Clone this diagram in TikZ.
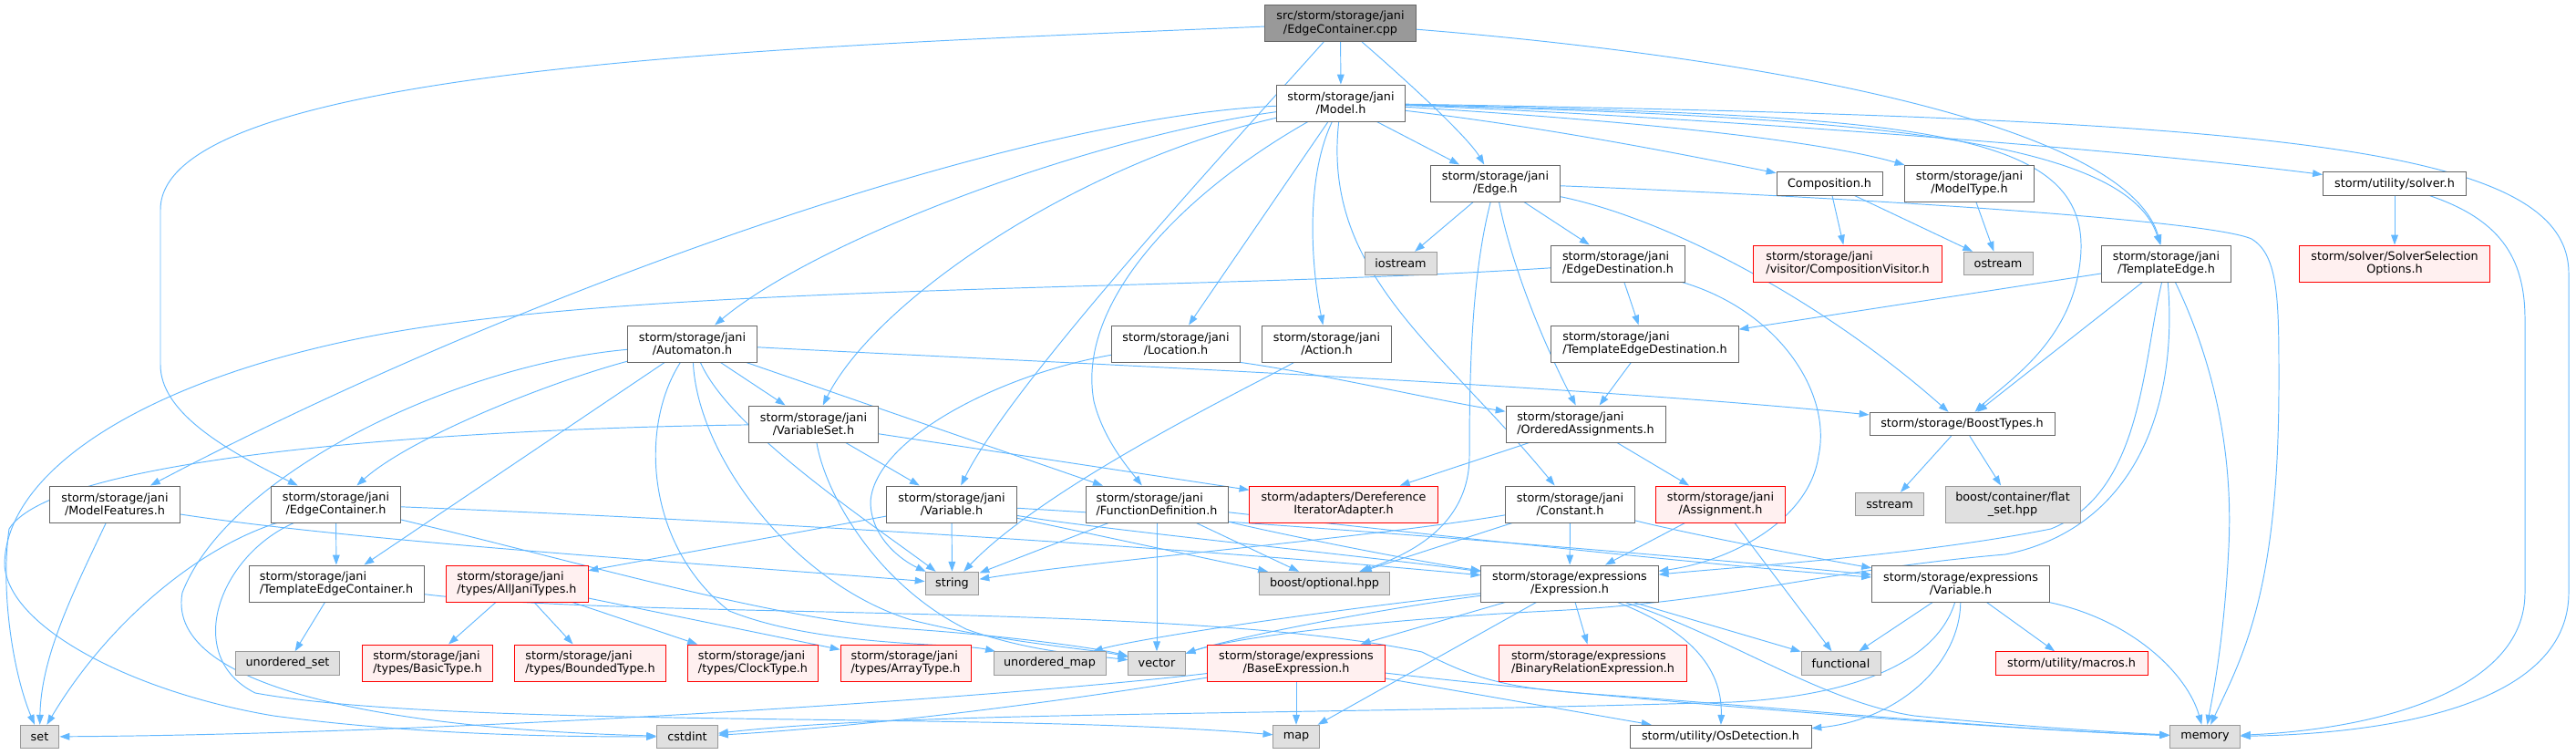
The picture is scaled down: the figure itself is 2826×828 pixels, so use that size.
\documentclass[tikz,border=0pt]{standalone}
\usepackage{fontspec}
\setmainfont{DejaVu Sans}
\usepackage{tikz}
\usetikzlibrary{arrows.meta,backgrounds}
\definecolor{LinkBlue}{HTML}{63B8FF}
\definecolor{DeepGray}{HTML}{666666}
\definecolor{MidGray}{HTML}{999999}
\definecolor{SoftGray}{HTML}{E0E0E0}
\definecolor{DeepRed}{HTML}{FF0000}
\definecolor{SoftRed}{HTML}{FFF0F0}
\newcommand{\graphfont}{\fontsize{10pt}{11.2pt}\selectfont}
\tikzset{
  filebox/.style={draw=DeepGray,fill=white,line width=0.75pt,align=center,
              minimum height=1.1cm,inner sep=2pt,font=\graphfont},
  rootbox/.style={filebox,fill=MidGray},
  sysbox/.style={filebox,draw=MidGray,fill=SoftGray,minimum height=0.7cm},
  redbox/.style={filebox,draw=DeepRed,fill=SoftRed},
  onerow/.style={minimum height=0.7cm},
  dep/.style={-{Triangle[length=8.5pt,width=6pt]},line width=0.75pt,draw=LinkBlue}
}
\begin{document}
\begin{tikzpicture}[x=0.0275cm,y=-0.0275cm]
  \useasboundingbox (0,0) rectangle (2826,828);

  \node[rootbox,minimum width=4.54cm] (root) at (1470.5,25.5) {src/storm/storage/jani\\/EdgeContainer.cpp};
  \node[filebox,minimum width=3.88cm] (model) at (1471,113) {storm/storage/jani\\/Model.h};
  \node[filebox,minimum width=3.91cm] (edge) at (1640.5,201) {storm/storage/jani\\/Edge.h};
  \node[filebox,onerow,minimum width=3.19cm] (compos) at (2007,201.5) {Composition.h};
  \node[filebox,minimum width=3.88cm] (modeltype) at (2160.5,201) {storm/storage/jani\\/ModelType.h};
  \node[filebox,onerow,minimum width=4.32cm] (solver) at (2627,201.5) {storm/utility/solver.h};
  \node[sysbox,minimum width=2.17cm] (iostream) at (1536.5,289) {iostream};
  \node[filebox,align=left,minimum width=4.02cm] (edgedest) at (1775,289) {storm/storage/jani\\/EdgeDestination.h};
  \node[redbox,align=left,minimum width=5.67cm] (compvisit) at (2027,289) {storm/storage/jani\\/visitor/CompositionVisitor.h};
  \node[sysbox,minimum width=2.09cm] (ostream) at (2192,289) {ostream};
  \node[filebox,minimum width=3.88cm] (templedge) at (2376.5,289) {storm/storage/jani\\/TemplateEdge.h};
  \node[redbox,minimum width=5.75cm] (solversel) at (2627,289) {storm/solver/SolverSelection\\Options.h};
  \node[filebox,minimum width=3.88cm] (automaton) at (759.5,377) {storm/storage/jani\\/Automaton.h};
  \node[filebox,minimum width=3.88cm] (location) at (1290,377) {storm/storage/jani\\/Location.h};
  \node[filebox,minimum width=3.88cm] (action) at (1455.5,377) {storm/storage/jani\\/Action.h};
  \node[filebox,align=left,minimum width=5.64cm] (templdest) at (1804.5,377) {storm/storage/jani\\/TemplateEdgeDestination.h};
  \node[filebox,minimum width=3.88cm] (varset) at (892.5,465) {storm/storage/jani\\/VariableSet.h};
  \node[filebox,align=left,minimum width=4.81cm] (ordassign) at (1739.5,465) {storm/storage/jani\\/OrderedAssignments.h};
  \node[filebox,onerow,minimum width=5.58cm] (boosttypes) at (2152.5,465) {storm/storage/BoostTypes.h};
  \node[filebox,minimum width=3.91cm] (modelfeat) at (126,553) {storm/storage/jani\\/ModelFeatures.h};
  \node[filebox,minimum width=3.88cm] (edgecont) at (368.5,553) {storm/storage/jani\\/EdgeContainer.h};
  \node[filebox,minimum width=3.91cm] (janivar) at (1044,553) {storm/storage/jani\\/Variable.h};
  \node[filebox,align=left,minimum width=4.29cm] (funcdef) at (1269,553) {storm/storage/jani\\/FunctionDefinition.h};
  \node[redbox,minimum width=5.67cm] (deref) at (1474,553) {storm/adapters/Dereference\\IteratorAdapter.h};
  \node[filebox,minimum width=3.88cm] (constant) at (1722.5,553) {storm/storage/jani\\/Constant.h};
  \node[redbox,minimum width=3.88cm] (assign) at (1887.5,553) {storm/storage/jani\\/Assignment.h};
  \node[sysbox,minimum width=2.04cm] (sstream) at (2073,553) {sstream};
  \node[sysbox,minimum height=1.1cm,minimum width=4.07cm] (flatset) at (2208,553) {boost/container/flat\\\_set.hpp};
  \node[filebox,align=left,minimum width=5.28cm] (templcont) at (369,640) {storm/storage/jani\\/TemplateEdgeContainer.h};
  \node[redbox,align=left,minimum width=4.29cm] (alltypes) at (567,640) {storm/storage/jani\\/types/AllJaniTypes.h};
  \node[sysbox,minimum width=1.62cm] (string) at (1044.5,640) {string};
  \node[sysbox,minimum width=3.91cm] (optional) at (1453,640) {boost/optional.hpp};
  \node[filebox,minimum width=5.34cm] (expression) at (1722,640) {storm/storage/expressions\\/Expression.h};
  \node[filebox,minimum width=5.36cm] (exprvar) at (2151,640) {storm/storage/expressions\\/Variable.h};
  \node[sysbox,minimum width=3.16cm] (unordset) at (315.5,727.5) {unordered\_set};
  \node[redbox,align=left,minimum width=3.91cm] (basictype) at (469,727) {storm/storage/jani\\/types/BasicType.h};
  \node[redbox,align=left,minimum width=4.54cm] (boundedtype) at (647.5,727) {storm/storage/jani\\/types/BoundedType.h};
  \node[redbox,align=left,minimum width=3.93cm] (clocktype) at (826,727) {storm/storage/jani\\/types/ClockType.h};
  \node[redbox,align=left,minimum width=3.93cm] (arraytype) at (993.5,727) {storm/storage/jani\\/types/ArrayType.h};
  \node[sysbox,minimum width=3.38cm] (unordmap) at (1151.5,727.5) {unordered\_map};
  \node[sysbox,minimum width=1.71cm] (vector) at (1269,727.5) {vector};
  \node[redbox,minimum width=5.34cm] (baseexpr) at (1422,727) {storm/storage/expressions\\/BaseExpression.h};
  \node[redbox,align=left,minimum width=5.64cm] (binrel) at (1747.5,727) {storm/storage/expressions\\/BinaryRelationExpression.h};
  \node[sysbox,minimum width=2.39cm] (functional) at (2019.5,727.5) {functional};
  \node[redbox,onerow,minimum width=4.59cm] (macros) at (2272.5,727.5) {storm/utility/macros.h};
  \node[sysbox,minimum width=1.18cm] (set) at (43.5,808) {set};
  \node[sysbox,minimum width=1.84cm] (cstdint) at (754,808) {cstdint};
  \node[sysbox,minimum width=1.38cm] (map) at (1422,808) {map};
  \node[filebox,onerow,minimum width=5.47cm] (osdet) at (1887.5,808) {storm/utility/OsDetection.h};
  \node[sysbox,minimum width=2.12cm] (memory) at (2419,808) {memory};

  \begin{scope}[on background layer]
  \draw[dep] (root) -- (model);
  \draw[dep] (root) .. controls (1545,90) and (1610,150) .. (edge);
  \draw[dep] (root) .. controls (900,50) and (176,70) .. (176,230) -- (176,400) .. controls (176,450) and (240,490) .. (edgecont);
  \draw[dep] (root) .. controls (1350,160) and (1110,420) .. (janivar);
  \draw[dep] (root) .. controls (1900,60) and (2330,130) .. (templedge);

  \draw[dep] (model) -- (edge);
  \draw[dep] (model) .. controls (1200,150) and (900,260) .. (automaton);
  \draw[dep] (model) .. controls (1100,130) and (550,330) .. (modelfeat);
  \draw[dep] (model) .. controls (1180,180) and (960,330) .. (varset);
  \draw[dep] (model) -- (location);
  \draw[dep] (model) .. controls (1430,200) and (1440,300) .. (action);
  \draw[dep] (model) .. controls (1450,300) and (1580,380) .. (constant);
  \draw[dep] (model) .. controls (1300,210) and (1180,330) .. (1200,440) .. controls (1210,480) and (1235,510) .. (funcdef);
  \draw[dep] (model) .. controls (1700,140) and (1850,170) .. (compos);
  \draw[dep] (model) .. controls (1750,130) and (1980,150) .. (modeltype);
  \draw[dep] (model) .. controls (1800,125) and (2300,160) .. (solver);
  \draw[dep] (model) .. controls (2000,128) and (2330,145) .. (templedge);
  \draw[dep] (model) .. controls (2120,128) and (2310,140) .. (2280,300) .. controls (2265,380) and (2200,420) .. (boosttypes);
  \draw[dep] (model) .. controls (2500,130) and (2818,160) .. (2818,300) -- (2818,650) .. controls (2818,780) and (2600,805) .. (memory);

  \draw[dep] (edge) -- (iostream);
  \draw[dep] (edge) -- (edgedest);
  \draw[dep] (edge) .. controls (1660,300) and (1700,390) .. (ordassign);
  \draw[dep] (edge) .. controls (1615,300) and (1612,400) .. (1612,500) .. controls (1612,580) and (1540,610) .. (optional);
  \draw[dep] (edge) .. controls (1830,240) and (2000,330) .. (boosttypes);
  \draw[dep] (edge) .. controls (2000,215) and (2420,240) .. (2470,262) .. controls (2500,280) and (2500,330) .. (2500,420) .. controls (2500,650) and (2460,720) .. (memory);

  \draw[dep] (compos) -- (compvisit);
  \draw[dep] (compos) -- (ostream);
  \draw[dep] (modeltype) -- (ostream);
  \draw[dep] (solver) -- (solversel);
  \draw[dep] (solver) .. controls (2740,240) and (2770,280) .. (2770,350) -- (2770,650) .. controls (2770,760) and (2600,800) .. (memory);

  \draw[dep] (edgedest) -- (templdest);
  \draw[dep] (edgedest) .. controls (1950,340) and (2010,430) .. (1995,500) .. controls (1985,570) and (1900,615) .. (expression);
  \draw[dep] (edgedest) .. controls (1300,320) and (700,310) .. (400,370) .. controls (150,420) and (5,520) .. (5,620) .. controls (10,690) and (150,760) .. (300,785) .. controls (450,805) and (600,808) .. (cstdint);

  \draw[dep] (templedge) -- (templdest);
  \draw[dep] (templedge) -- (boosttypes);
  \draw[dep] (templedge) .. controls (2350,400) and (2350,540) .. (2250,580) .. controls (2100,610) and (1900,622) .. (expression);
  \draw[dep] (templedge) .. controls (2390,450) and (2340,580) .. (2200,608) .. controls (2000,625) and (1900,660) .. (1700,670) .. controls (1500,680) and (1350,700) .. (vector);
  \draw[dep] (templedge) .. controls (2430,400) and (2450,500) .. (2445,600) .. controls (2440,700) and (2428,760) .. (memory);

  \draw[dep] (automaton) .. controls (600,420) and (450,480) .. (edgecont);
  \draw[dep] (automaton) -- (templcont);
  \draw[dep] (automaton) -- (varset);
  \draw[dep] (automaton) -- (funcdef);
  \draw[dep] (automaton) .. controls (1100,395) and (1700,420) .. (boosttypes);
  \draw[dep] (automaton) .. controls (500,400) and (250,520) .. (200,650) .. controls (180,760) and (450,800) .. (cstdint);
  \draw[dep] (automaton) .. controls (800,470) and (950,570) .. (string);
  \draw[dep] (automaton) .. controls (765,500) and (870,640) .. (1000,680) .. controls (1100,705) and (1200,712) .. (vector);
  \draw[dep] (automaton) .. controls (700,470) and (710,600) .. (800,670) .. controls (900,710) and (1050,705) .. (unordmap);

  \draw[dep] (location.south east) .. controls (1450,410) and (1580,440) .. (ordassign);
  \draw[dep] (location) .. controls (1100,410) and (960,480) .. (955,550) .. controls (955,590) and (990,615) .. (string);
  \draw[dep] (action) .. controls (1380,420) and (1150,530) .. (string);
  \draw[dep] (templdest) -- (ordassign);

  \draw[dep] (varset) .. controls (500,470) and (60,500) .. (10,580) .. controls (0,650) and (15,740) .. (set);
  \draw[dep] (varset) -- (janivar);
  \draw[dep] (varset) -- (deref);
  \draw[dep] (varset) .. controls (905,540) and (960,640) .. (1060,690) .. controls (1130,715) and (1190,718) .. (vector);
  \draw[dep] (ordassign) -- (deref);
  \draw[dep] (ordassign) -- (assign);
  \draw[dep] (boosttypes) -- (sstream);
  \draw[dep] (boosttypes) -- (flatset);

  \draw[dep] (modelfeat) .. controls (80,650) and (45,720) .. (set);
  \draw[dep] (modelfeat) .. controls (400,595) and (800,620) .. (string);
  \draw[dep] (edgecont) -- (templcont);
  \draw[dep] (edgecont) .. controls (220,600) and (120,680) .. (set);
  \draw[dep] (edgecont) .. controls (240,610) and (200,720) .. (280,760) .. controls (500,800) and (1100,780) .. (map);
  \draw[dep] (edgecont) .. controls (800,570) and (1300,600) .. (expression);
  \draw[dep] (edgecont) .. controls (650,620) and (850,680) .. (1000,690) .. controls (1100,697) and (1200,710) .. (vector);

  \draw[dep] (janivar) -- (string);
  \draw[dep] (janivar) -- (alltypes);
  \draw[dep] (janivar) -- (optional);
  \draw[dep] (janivar) .. controls (1200,580) and (1500,610) .. (expression);
  \draw[dep] (janivar) .. controls (1500,580) and (1900,615) .. (exprvar);
  \draw[dep] (funcdef) -- (string);
  \draw[dep] (funcdef) -- (vector);
  \draw[dep] (funcdef) -- (optional);
  \draw[dep] (funcdef) .. controls (1400,585) and (1550,615) .. (expression);
  \draw[dep] (funcdef) .. controls (1600,590) and (1900,622) .. (exprvar);
  \draw[dep] (constant) .. controls (1500,590) and (1200,615) .. (string);
  \draw[dep] (constant) -- (optional);
  \draw[dep] (constant) -- (expression);
  \draw[dep] (constant) .. controls (1850,585) and (1980,610) .. (exprvar);
  \draw[dep] (assign) -- (expression);
  \draw[dep] (assign) -- (functional);

  \draw[dep] (templcont) -- (unordset);
  \draw[dep] (templcont) .. controls (700,680) and (1300,660) .. (1560,715) .. controls (1620,745) and (1650,755) .. (1760,762) .. controls (2000,780) and (2200,800) .. (memory);
  \draw[dep] (alltypes) -- (basictype);
  \draw[dep] (alltypes) -- (boundedtype);
  \draw[dep] (alltypes) -- (clocktype);
  \draw[dep] (alltypes) -- (arraytype);

  \draw[dep] (expression) .. controls (1500,670) and (1350,700) .. (vector);
  \draw[dep] (expression) .. controls (1450,670) and (1250,700) .. (unordmap);
  \draw[dep] (expression) -- (baseexpr);
  \draw[dep] (expression) -- (map);
  \draw[dep] (expression) -- (binrel);
  \draw[dep] (expression) .. controls (1850,690) and (1890,730) .. (osdet);
  \draw[dep] (expression) -- (functional);
  \draw[dep] (expression) .. controls (1900,700) and (2000,770) .. (2100,785) .. controls (2200,795) and (2300,802) .. (memory);
  \draw[dep] (exprvar) -- (functional);
  \draw[dep] (exprvar) -- (macros);
  \draw[dep] (exprvar) .. controls (2340,680) and (2400,740) .. (memory);
  \draw[dep] (exprvar) .. controls (2150,730) and (2080,790) .. (osdet);
  \draw[dep] (exprvar) .. controls (2120,740) and (2000,765) .. (1900,770) .. controls (1400,785) and (1000,780) .. (cstdint);
  \draw[dep] (baseexpr) -- (map);
  \draw[dep] (baseexpr) .. controls (1100,765) and (500,805) .. (set);
  \draw[dep] (baseexpr) .. controls (1100,780) and (900,800) .. (cstdint);
  \draw[dep] (baseexpr) .. controls (1800,770) and (2200,800) .. (memory);
  \draw[dep] (baseexpr) -- (osdet);
  \end{scope}
\end{tikzpicture}
\end{document}
